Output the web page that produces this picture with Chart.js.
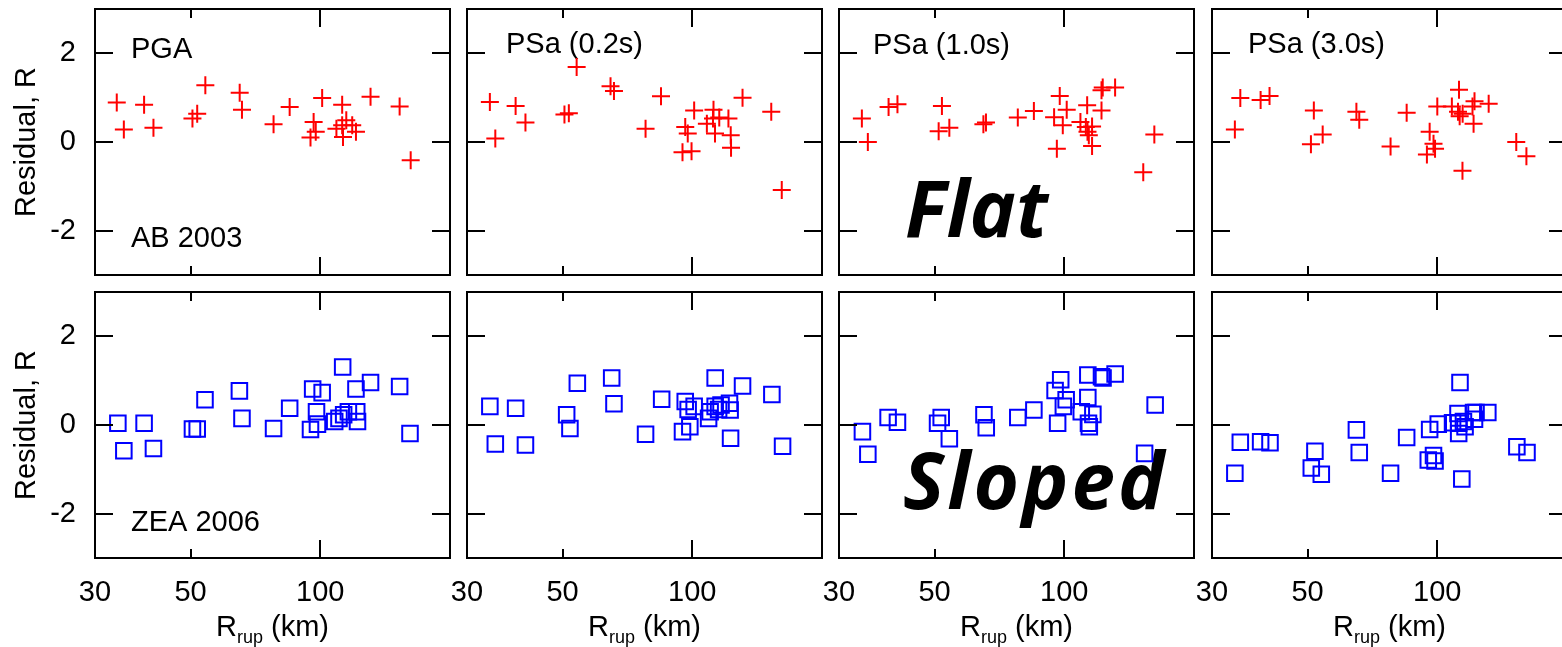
<!DOCTYPE html>
<html><head><meta charset="utf-8">
<script src="https://cdn.jsdelivr.net/npm/chart.js@4/dist/chart.umd.min.js"></script>
<style>
html,body{margin:0;padding:0;background:#fff;overflow:hidden;width:1562px;height:647px;}
#wrap{position:relative;width:1562px;height:647px;overflow:hidden;background:#fff;}
canvas{position:absolute;}
</style></head><body><div id="wrap"></div>
<script>
// ---------- DATA ----------
const xTickValues = [30, 40, 50, 60, 70, 80, 90, 100, 200];
const xTickLabels = ['30', '50', '100'];
const yTickValues = [-3, -2, -1, 0, 1, 2, 3];
const yTickLabels = ['-2', '0', '2'];
const panelTitles = ['PGA', 'PSa (0.2s)', 'PSa (1.0s)', 'PSa (3.0s)'];
const modelNames = ['AB 2003', 'ZEA 2006'];
const rowNotes = ['Flat', 'Sloped'];

// AB 2003 (red crosses)
const pgaAB_R   = [33.7, 35.0, 39.0, 41.0, 50.5, 51.8, 54.1, 65.0, 65.8, 77.9, 84.9, 94.9, 96.5, 97.6, 101.0, 112.4, 109.0, 112.4, 112.9, 114.9, 118.6, 121.0, 130.8, 152.8, 162.1];
const pgaAB_res = [0.89, 0.28, 0.84, 0.32, 0.53, 0.64, 1.28, 1.11, 0.73, 0.40, 0.79, 0.10, 0.45, 0.23, 0.99, 0.84, 0.30, 0.38, 0.11, 0.49, 0.38, 0.23, 1.02, 0.80, -0.41];

const psa02AB_R   = [33.9, 34.9, 38.9, 41.0, 50.5, 51.7, 53.9, 64.6, 65.8, 77.9, 84.6, 94.9, 96.3, 97.6, 99.6, 101.0, 108.1, 112.0, 111.7, 112.9, 115.5, 121.3, 122.8, 123.0, 130.8, 152.5, 161.3];
const psa02AB_res = [0.90, 0.08, 0.81, 0.44, 0.62, 0.65, 1.69, 1.26, 1.15, 0.30, 1.03, -0.23, 0.34, 0.19, -0.21, 0.71, 0.41, 0.73, 0.53, 0.19, 0.55, 0.53, 0.15, -0.13, 1.00, 0.68, -1.08];

const psa10AB_R   = [33.9, 35.0, 39.1, 41.0, 51.1, 52.0, 54.1, 64.9, 65.8, 78.0, 85.0, 96.1, 94.7, 97.6, 99.2, 101.3, 109.0, 113.0, 112.2, 113.2, 114.0, 116.0, 116.0, 122.0, 122.8, 122.0, 131.2, 152.5, 161.8];
const psa10AB_res = [0.53, 0.00, 0.79, 0.85, 0.24, 0.81, 0.32, 0.40, 0.44, 0.55, 0.70, -0.15, 0.56, 1.04, 0.38, 0.73, 0.45, 0.83, 0.34, 0.23, 0.15, 0.35, -0.09, 1.17, 1.23, 0.71, 1.23, -0.68, 0.17];

const psa30AB_R   = [33.9, 34.9, 38.9, 40.8, 50.9, 51.7, 54.2, 64.9, 65.9, 77.9, 84.9, 94.6, 96.0, 98.0, 98.8, 100.0, 108.1, 112.3, 111.7, 112.7, 114.5, 114.4, 121.4, 122.0, 120.7, 131.6, 152.5, 161.0];
const psa30AB_res = [0.28, 0.99, 0.95, 1.04, -0.05, 0.71, 0.17, 0.68, 0.50, -0.10, 0.66, -0.28, 0.23, -0.04, -0.15, 0.80, 0.80, 1.18, 0.68, 0.58, 0.64, -0.65, 0.41, 0.92, 0.80, 0.86, 0.00, -0.32];

// ZEA 2006 (blue squares)
const pgaZEA_R   = [33.9, 35.0, 39.0, 41.0, 50.5, 51.8, 54.0, 64.9, 65.8, 77.9, 84.9, 94.9, 96.0, 98.0, 101.0, 98.5, 108.0, 112.7, 110.5, 113.3, 116.2, 121.0, 121.5, 122.0, 130.8, 152.8, 161.5];
const pgaZEA_res = [0.04, -0.58, 0.04, -0.53, -0.09, -0.09, 0.57, 0.77, 0.15, -0.08, 0.38, -0.10, 0.81, 0.30, 0.73, 0.02, 0.08, 1.31, 0.15, 0.23, 0.30, 0.81, 0.30, 0.08, 0.96, 0.87, -0.19];

const psa02ZEA_R   = [33.9, 34.9, 38.9, 41.0, 51.1, 52.0, 54.1, 65.0, 65.8, 77.9, 84.9, 94.9, 96.3, 97.8, 98.7, 101.0, 109.1, 113.0, 110.0, 113.0, 115.1, 116.6, 122.0, 122.4, 122.7, 130.8, 153.0, 162.0];
const psa02ZEA_res = [0.42, -0.43, 0.38, -0.45, 0.23, -0.08, 0.94, 1.06, 0.48, -0.21, 0.58, -0.15, 0.53, 0.35, -0.04, 0.42, 0.15, 1.06, 0.30, 0.42, 0.35, 0.45, 0.49, 0.34, -0.30, 0.88, 0.69, -0.48];

const psa10ZEA_R   = [34.0, 35.0, 39.0, 41.0, 50.8, 51.8, 54.1, 65.1, 65.9, 78.0, 85.0, 95.2, 98.1, 96.5, 99.5, 101.0, 109.5, 113.4, 113.4, 116.5, 113.8, 114.3, 122.0, 123.0, 131.2, 153.6, 162.5];
const psa10ZEA_res = [-0.15, -0.66, 0.17, 0.06, 0.04, 0.17, -0.31, 0.23, -0.06, 0.17, 0.34, 0.78, 1.02, 0.04, 0.42, 0.57, 0.30, 1.13, 0.62, 0.24, 0.04, -0.04, 1.09, 1.06, 1.15, -0.64, 0.45];

const psa30ZEA_R   = [33.9, 34.9, 38.9, 40.9, 51.0, 52.0, 53.8, 64.9, 65.9, 77.9, 84.9, 95.3, 96.0, 98.0, 98.8, 100.5, 108.5, 112.9, 111.7, 112.1, 112.1, 115.0, 116.0, 114.0, 121.4, 122.0, 123.0, 131.0, 153.0, 161.5];
const psa30ZEA_res = [-1.09, -0.39, -0.38, -0.40, -0.97, -0.59, -1.11, -0.11, -0.62, -1.09, -0.28, -0.79, -0.10, -0.69, -0.81, 0.02, 0.05, 0.96, 0.26, 0.04, -0.19, 0.08, -0.04, -1.22, 0.28, 0.13, 0.28, 0.28, -0.49, -0.62];

// ---------- LAYOUT ----------
const COLS = [95, 467, 839, 1212];
const ROWS = [9, 292];
const PW = 355, PH = 266;
const FONT = "'Liberation Sans', Arial, Helvetica, sans-serif";
const wrap = document.getElementById('wrap');

function drawTexts(chart, opts) {
  const ctx = chart.ctx;
  const ox = opts.ox, oy = opts.oy;
  ctx.save();
  ctx.fillStyle = '#000';
  (opts.texts || []).forEach(t => {
    ctx.save();
    ctx.font = t.font;
    ctx.textBaseline = 'alphabetic';
    if (t.spacing) ctx.letterSpacing = t.spacing;
    if (t.rotate) {
      ctx.translate(t.x - ox, t.y - oy);
      ctx.rotate(-Math.PI / 2);
      ctx.textAlign = 'center';
      ctx.fillText(t.text, 0, 0);
    } else if (t.sub) {
      ctx.textAlign = 'left';
      const big = '29px ' + FONT, small = '18px ' + FONT;
      ctx.font = big; const w1 = ctx.measureText(t.text).width;
      ctx.font = small; const w2 = ctx.measureText(t.sub).width;
      ctx.font = big; const w3 = ctx.measureText(t.after).width;
      let sx = t.x - ox - (w1 + w2 + w3) / 2;
      const by = t.y - oy;
      ctx.font = big; ctx.fillText(t.text, sx, by); sx += w1;
      ctx.font = small; ctx.fillText(t.sub, sx, by + 7); sx += w2;
      ctx.font = big; ctx.fillText(t.after, sx, by);
    } else {
      ctx.textAlign = 'left';
      ctx.fillText(t.text, t.x - ox, t.y - oy);
    }
    ctx.restore();
  });
  ctx.restore();
}

const decoPlugin = {
  id: 'deco',
  beforeDatasetsDraw(chart, args, opts) { drawTexts(chart, opts); },
  afterDraw(chart, args, opts) {
    const {ctx, chartArea: a, scales: {x, y}} = chart;
    ctx.save();
    ctx.strokeStyle = '#000';
    ctx.lineWidth = 2;
    ctx.strokeRect(a.left, a.top, a.right - a.left, a.bottom - a.top);
    ctx.beginPath();
    x.ticks.forEach(t => {
      const px = Math.round(x.getPixelForValue(t.value));
      const len = t.value === 100 ? 18 : 9;
      ctx.moveTo(px, a.top); ctx.lineTo(px, a.top + len);
      ctx.moveTo(px, a.bottom); ctx.lineTo(px, a.bottom - len);
    });
    y.ticks.forEach(t => {
      const py = Math.round(y.getPixelForValue(t.value));
      ctx.moveTo(a.left, py); ctx.lineTo(a.left + 18, py);
      ctx.moveTo(a.right, py); ctx.lineTo(a.right - 18, py);
    });
    ctx.stroke();
    ctx.restore();
  }
};

function makePanel(row, col, xs, ys, texts) {
  const padL = col === 0 ? 95 : 60;
  const padR = 45;
  const padT = 45;
  const padB = row === 0 ? 45 : 647 - (ROWS[1] + PH);
  const w = padL + PW + padR, h = padT + PH + padB;
  const ox = COLS[col] - padL, oy = ROWS[row] - padT;
  const cv = document.createElement('canvas');
  cv.width = w; cv.height = h;
  cv.style.width = w + 'px'; cv.style.height = h + 'px';
  cv.style.left = ox + 'px'; cv.style.top = oy + 'px';
  wrap.appendChild(cv);
  const isAB = row === 0;
  new Chart(cv, {
    type: 'scatter',
    data: {
      datasets: [{
        data: xs.map((v, i) => ({x: v, y: ys[i]})),
        pointStyle: isAB ? 'cross' : 'rect',
        pointRadius: isAB ? 9 : 11,
        pointHoverRadius: isAB ? 9 : 11,
        borderColor: isAB ? '#ff0000' : '#0000ff',
        pointBorderColor: isAB ? '#ff0000' : '#0000ff',
        backgroundColor: 'rgba(0,0,0,0)',
        pointBackgroundColor: 'rgba(0,0,0,0)',
        borderWidth: 2,
        pointBorderWidth: 2,
        clip: false
      }]
    },
    options: {
      responsive: false, animation: false, devicePixelRatio: 1, events: [],
      layout: {padding: {top: padT, right: padR, left: 0, bottom: 0}},
      plugins: {legend: {display: false}, tooltip: {enabled: false},
        deco: {ox, oy, texts}},
      scales: {
        x: {
          type: 'logarithmic', position: 'bottom', min: 30, max: 200,
          afterBuildTicks: s => { s.ticks = xTickValues.map(v => ({value: v})); },
          afterFit: s => { s.height = padB; },
          grid: {display: false, drawTicks: false}, border: {display: false},
          ticks: {display: row === 1, autoSkip: false, maxRotation: 0, minRotation: 0,
            padding: 18, color: '#000', font: {family: FONT, size: 29},
            callback: v => xTickLabels.includes(String(v)) ? String(v) : null}
        },
        y: {
          type: 'linear', min: -3, max: 3,
          afterBuildTicks: s => { s.ticks = yTickValues.map(v => ({value: v})); },
          afterFit: s => { s.width = padL; },
          grid: {display: false, drawTicks: false}, border: {display: false},
          ticks: {display: col === 0, padding: 19, color: '#000', font: {family: FONT, size: 29},
            callback: v => yTickLabels.includes(String(v)) ? String(v) : null}
        }
      }
    },
    plugins: [decoPlugin]
  });
}

const F29 = '29px ' + FONT;
const BIG = "italic bold 78px 'Open Sans', 'DejaVu Sans', sans-serif";
const rrup = c => ({text: 'R', sub: 'rup', after: ' (km)', x: COLS[c] + PW / 2, y: 636});

makePanel(0, 0, pgaAB_R, pgaAB_res, [
  {text: panelTitles[0], x: 131, y: 58, font: F29},
  {text: modelNames[0], x: 131, y: 247, font: F29},
  {text: 'Residual, R', x: 35, y: 142, font: F29, rotate: true}
]);
makePanel(0, 1, psa02AB_R, psa02AB_res, [
  {text: panelTitles[1], x: 506, y: 53, font: F29}
]);
makePanel(0, 2, psa10AB_R, psa10AB_res, [
  {text: panelTitles[2], x: 873, y: 54, font: F29},
  {text: rowNotes[0], x: 905, y: 237, font: BIG}
]);
makePanel(0, 3, psa30AB_R, psa30AB_res, [
  {text: panelTitles[3], x: 1248, y: 53, font: F29}
]);
makePanel(1, 0, pgaZEA_R, pgaZEA_res, [
  {text: modelNames[1], x: 131, y: 531, font: F29},
  {text: 'Residual, R', x: 35, y: 425, font: F29, rotate: true},
  rrup(0)
]);
makePanel(1, 1, psa02ZEA_R, psa02ZEA_res, [rrup(1)]);
makePanel(1, 2, psa10ZEA_R, psa10ZEA_res, [
  {text: rowNotes[1], x: 903, y: 509, font: BIG, spacing: '3px'},
  rrup(2)
]);
makePanel(1, 3, psa30ZEA_R, psa30ZEA_res, [rrup(3)]);
</script>
</body></html>
